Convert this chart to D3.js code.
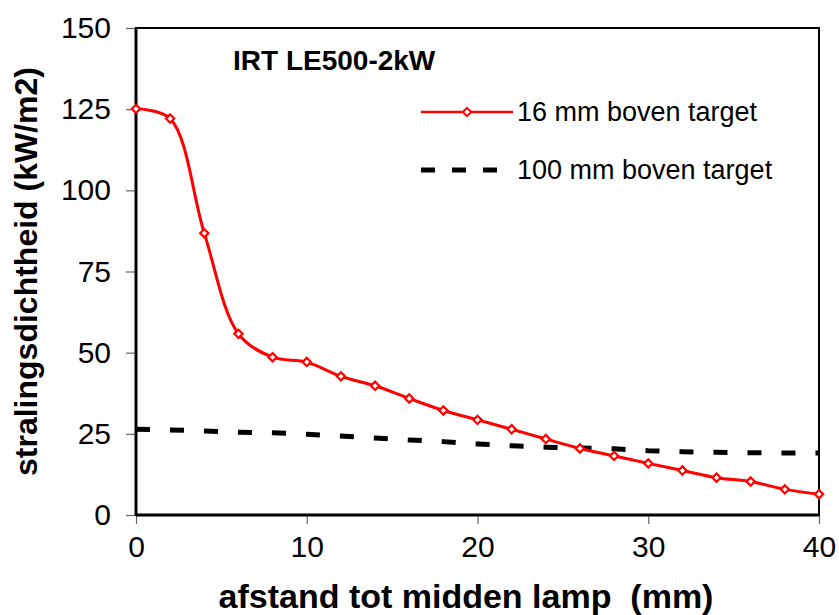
<!DOCTYPE html>
<html>
<head>
<meta charset="utf-8">
<script src="https://cdn.jsdelivr.net/npm/d3@7"></script>
<style>
  body { margin: 0; background: #fff; }
  text { font-family: "Liberation Sans", Arial, sans-serif; fill: #000; }
</style>
</head>
<body>
<div id="chart"></div>
<script>
// data
var afstand = [0, 2, 4, 6, 8, 10, 12, 14, 16, 18, 20, 22, 24, 26, 28, 30, 32, 34, 36, 38, 40]
var boven16 = [125.1, 122.1, 86.8, 55.8, 48.6, 47.1, 42.7, 39.8, 35.9, 32.2, 29.3, 26.4, 23.4, 20.5, 18.2, 15.9, 13.7, 11.5, 10.3, 7.9, 6.4]
var boven100 = [26.4, 26.2, 25.9, 25.5, 25.3, 24.9, 24.3, 23.7, 23.1, 22.6, 21.9, 21.3, 20.9, 20.6, 20.4, 19.8, 19.5, 19.3, 19.2, 19.1, 19.1]
var xTicks = [0, 10, 20, 30, 40]
var yTicks = [0, 25, 50, 75, 100, 125, 150]
var seriesNames = ["16 mm boven target", "100 mm boven target"]

var width = 839, height = 615
var margin = {top: 28, right: 20, bottom: 100, left: 136}
var w = width - margin.left - margin.right
var h = height - margin.top - margin.bottom

var svg = d3.select("#chart").append("svg")
    .attr("width", width)
    .attr("height", height)

var g = svg.append("g")
    .attr("transform", `translate(${margin.left}, ${margin.top})`)

var xScale = d3.scaleLinear().domain([0, 40]).range([0, w])
var yScale = d3.scaleLinear().domain([0, 150]).range([h, 0])

/* axes */
var xAxis = d3.axisBottom(xScale).tickValues(xTicks).tickSize(9).tickPadding(12)
var yAxis = d3.axisLeft(yScale).tickValues(yTicks).tickSize(10).tickPadding(15)

g.append("g")
    .attr("class", "x axis")
    .attr("transform", `translate(0, ${h})`)
    .call(xAxis)
g.append("g")
    .attr("class", "y axis")
    .call(yAxis)

g.selectAll(".axis .domain").remove()
g.selectAll(".axis .tick line").attr("stroke", "#666").attr("stroke-width", 1.2)
g.selectAll(".axis text")
    .style("font-size", "30px")
    .style("font-family", "'Liberation Sans', Arial, sans-serif")
    .attr("fill", "#000")

/* frame */
g.append("rect")
    .attr("width", w).attr("height", h)
    .attr("fill", "none")
    .attr("stroke", "#000")
    .attr("stroke-width", 2)
g.append("line").attr("x1", 0).attr("x2", 0).attr("y1", 0).attr("y2", h)
    .attr("stroke", "#000").attr("stroke-width", 3)
g.append("line").attr("x1", 0).attr("x2", w).attr("y1", h).attr("y2", h)
    .attr("stroke", "#000").attr("stroke-width", 3)

/* dashed series */
var line = d3.line()
    .x((d, i) => xScale(afstand[i]))
    .y(d => yScale(d))

g.append("path")
    .attr("d", line(boven100))
    .attr("fill", "none")
    .attr("stroke", "#000")
    .attr("stroke-width", 5)
    .attr("stroke-dasharray", "14,20")

/* red smoothed series */
var smooth = d3.line()
    .x((d, i) => xScale(afstand[i]))
    .y(d => yScale(d))
    .curve(d3.curveCatmullRom.alpha(0.5))

g.append("path")
    .attr("d", smooth(boven16))
    .attr("fill", "none")
    .attr("stroke", "#ff0000")
    .attr("stroke-width", 3)

var diamond = d3.symbol().type(d3.symbolDiamond2).size(44)

g.selectAll(".pt")
    .data(boven16).enter()
    .append("path")
    .attr("class", "pt")
    .attr("d", diamond)
    .attr("transform", (d, i) => `translate(${xScale(afstand[i])}, ${yScale(d)})`)
    .attr("fill", "#fff")
    .attr("stroke", "#ff0000")
    .attr("stroke-width", 2.2)

/* title inside the plot */
svg.append("text")
    .attr("x", 233).attr("y", 70)
    .style("font-size", "28px")
    .style("font-weight", "bold")
    .text("IRT LE500-2kW")

/* legend */
var legend = svg.append("g").attr("transform", "translate(421, 0)")
legend.append("line")
    .attr("x1", 0).attr("x2", 92).attr("y1", 112).attr("y2", 112)
    .attr("stroke", "#ff0000").attr("stroke-width", 2.5)
legend.append("path")
    .attr("d", diamond)
    .attr("transform", "translate(46, 112)")
    .attr("fill", "#fff").attr("stroke", "#ff0000").attr("stroke-width", 2)
legend.append("line")
    .attr("x1", 0).attr("x2", 78).attr("y1", 170).attr("y2", 170)
    .attr("stroke", "#000").attr("stroke-width", 5)
    .attr("stroke-dasharray", "14,17")
legend.selectAll(".leg-text")
    .data(seriesNames).enter()
    .append("text")
    .attr("class", "leg-text")
    .attr("x", 96)
    .attr("y", (d, i) => 121 + 58 * i)
    .style("font-size", "27px")
    .text(d => d)

/* axis titles */
svg.append("text")
    .attr("x", 466)
    .attr("y", 608)
    .attr("text-anchor", "middle")
    .style("font-size", "34px")
    .style("font-weight", "bold")
    .style("white-space", "pre")
    .text("afstand tot midden lamp  (mm)")

svg.append("text")
    .attr("transform", `translate(37, ${margin.top + h / 2}) rotate(-90)`)
    .attr("text-anchor", "middle")
    .style("font-size", "32px")
    .style("font-weight", "bold")
    .text("stralingsdichtheid (kW/m2)")
</script>
</body>
</html>
